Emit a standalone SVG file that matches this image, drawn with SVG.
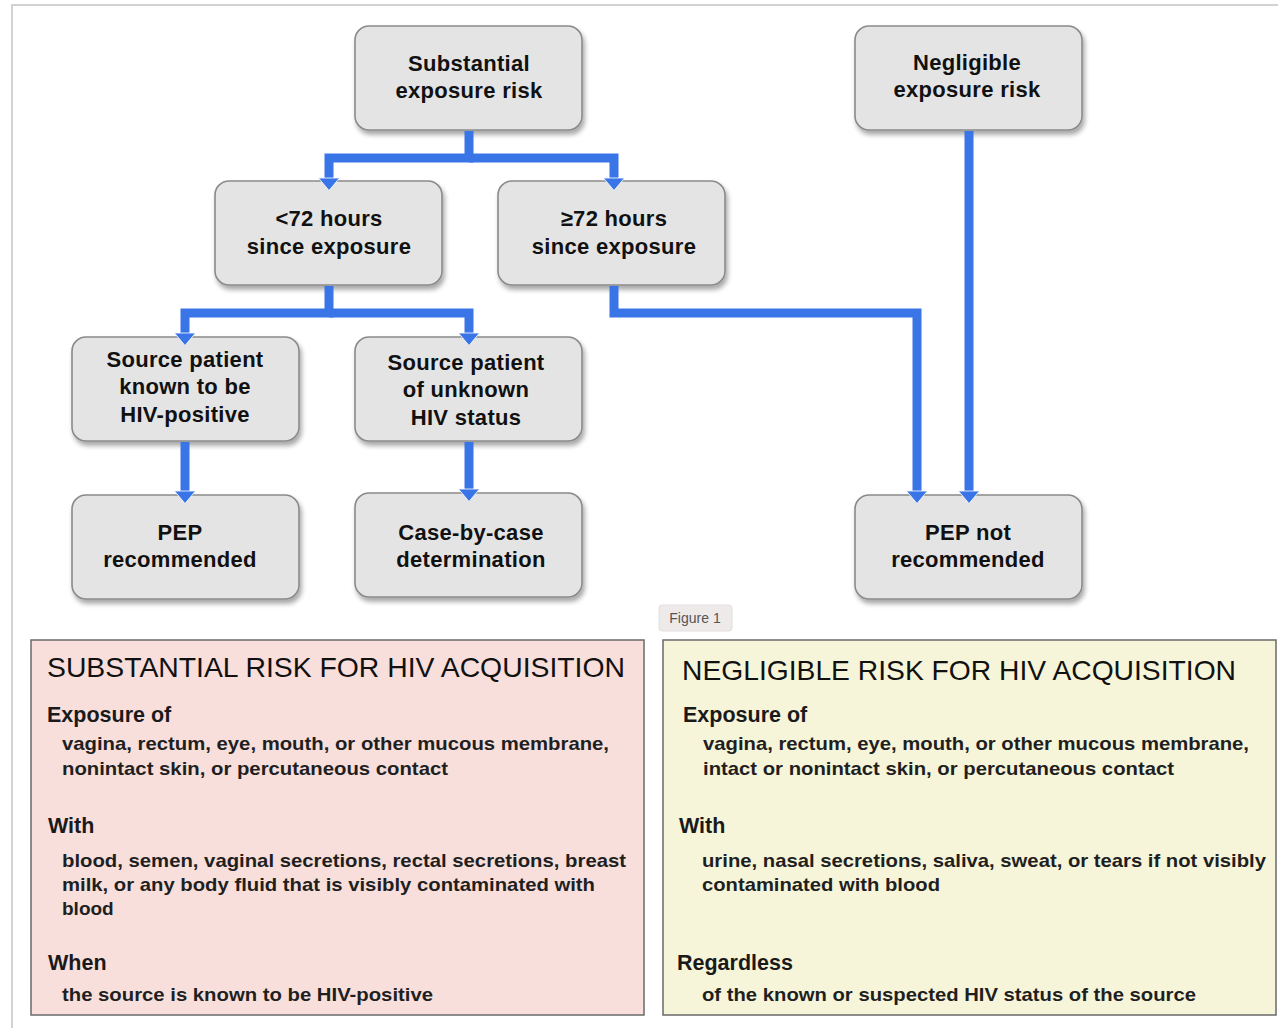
<svg xmlns="http://www.w3.org/2000/svg" width="1278" height="1028" viewBox="0 0 1278 1028">
<style>
.node rect.b{fill:#e4e4e4;stroke:#8a8a8a;stroke-width:1.6;filter:url(#sh)}
.nt{font-family:"Liberation Sans",Arial,sans-serif;font-weight:bold;font-size:22px;fill:#111;text-anchor:middle;letter-spacing:0.3px}
.conn{fill:none;stroke:#3a75e8;stroke-width:9;stroke-linejoin:miter}
.title{font-family:"Liberation Sans",Arial,sans-serif;font-size:28px;fill:#111}
.hd{font-family:"Liberation Sans",Arial,sans-serif;font-weight:bold;font-size:21.5px;fill:#1a1a1a}
.bd{font-family:"Liberation Sans",Arial,sans-serif;font-weight:bold;font-size:19px;fill:#1f1f1f}
</style>
<defs>
<filter id="sh" x="-10%" y="-10%" width="125%" height="130%">
<feGaussianBlur in="SourceAlpha" stdDeviation="2.5"/>
<feOffset dx="2" dy="4" result="o"/>
<feComponentTransfer><feFuncA type="linear" slope="0.35"/></feComponentTransfer>
<feMerge><feMergeNode/><feMergeNode in="SourceGraphic"/></feMerge>
</filter>
<marker id="ah" markerUnits="userSpaceOnUse" markerWidth="24" markerHeight="24" viewBox="0 -12 14 24" refX="0" refY="0" orient="auto">
<path d="M0,-10.5 L12.5,0 L0,10.5 Z" fill="#3a75e8" stroke="#ffffff" stroke-width="0.8"/>
</marker>
</defs>
<rect x="0" y="0" width="1278" height="1028" fill="#ffffff"/>
<g id="frame" stroke="#d2d2d2" stroke-width="2" fill="none">
<path d="M12,1028 V5 H1278"/>
</g>

<g id="n-substantial" class="node">
<rect class="b" x="355" y="26" width="227" height="104" rx="14"/>
<text class="nt" x="469" y="71">Substantial</text>
<text class="nt" x="469" y="98">exposure risk</text>
</g>
<g id="n-negligible" class="node">
<rect class="b" x="855" y="26" width="227" height="104" rx="14"/>
<text class="nt" x="967" y="70">Negligible</text>
<text class="nt" x="967" y="97">exposure risk</text>
</g>
<g id="n-lt72" class="node">
<rect class="b" x="215" y="181" width="227" height="104" rx="14"/>
<text class="nt" x="329" y="226">&lt;72 hours</text>
<text class="nt" x="329" y="254">since exposure</text>
</g>
<g id="n-ge72" class="node">
<rect class="b" x="498" y="181" width="227" height="104" rx="14"/>
<text class="nt" x="614" y="226">≥72 hours</text>
<text class="nt" x="614" y="254">since exposure</text>
</g>
<g id="n-known" class="node">
<rect class="b" x="72" y="337" width="227" height="104" rx="14"/>
<text class="nt" x="185" y="367">Source patient</text>
<text class="nt" x="185" y="394">known to be</text>
<text class="nt" x="185" y="422">HIV-positive</text>
</g>
<g id="n-unknown" class="node">
<rect class="b" x="355" y="337" width="227" height="104" rx="14"/>
<text class="nt" x="466" y="370">Source patient</text>
<text class="nt" x="466" y="397">of unknown</text>
<text class="nt" x="466" y="425">HIV status</text>
</g>
<g id="n-pep" class="node">
<rect class="b" x="72" y="495" width="227" height="104" rx="14"/>
<text class="nt" x="180" y="540">PEP</text>
<text class="nt" x="180" y="567">recommended</text>
</g>
<g id="n-case" class="node">
<rect class="b" x="355" y="493" width="227" height="104" rx="14"/>
<text class="nt" x="471" y="540">Case-by-case</text>
<text class="nt" x="471" y="567">determination</text>
</g>
<g id="n-pepnot" class="node">
<rect class="b" x="855" y="495" width="227" height="104" rx="14"/>
<text class="nt" x="968" y="540">PEP not</text>
<text class="nt" x="968" y="567">recommended</text>
</g>

<g id="connectors">
<path class="conn" d="M469,131 V158 H329 V178" marker-end="url(#ah)"/>
<path class="conn" d="M469,158 H614 V178" marker-end="url(#ah)"/>
<path class="conn" d="M329,286 V313 H185 V333" marker-end="url(#ah)"/>
<path class="conn" d="M329,313 H469 V333" marker-end="url(#ah)"/>
<path class="conn" d="M185,442 V491" marker-end="url(#ah)"/>
<path class="conn" d="M469,442 V489" marker-end="url(#ah)"/>
<path class="conn" d="M614,286 V313 H917 V491" marker-end="url(#ah)"/>
<path class="conn" d="M969,131 V491" marker-end="url(#ah)"/>
</g>

<g id="figure-label">
<rect x="659" y="605" width="73" height="26" rx="3" fill="#eeeaea" stroke="#e2dede" stroke-width="1"/>
<text x="695" y="623" font-family="Liberation Sans, Arial, sans-serif" font-size="14" fill="#555" text-anchor="middle">Figure 1</text>
</g>

<g id="box-substantial">
<rect x="31" y="640" width="613" height="375" fill="#f8dfdb" stroke="#6a6a6a" stroke-width="1.5"/>
<text class="title" x="47" y="677" textLength="578" lengthAdjust="spacingAndGlyphs">SUBSTANTIAL RISK FOR HIV ACQUISITION</text>
<text class="hd" x="47" y="722">Exposure of</text>
<text class="bd" x="62" y="750" textLength="547" lengthAdjust="spacingAndGlyphs">vagina, rectum, eye, mouth, or other mucous membrane,</text>
<text class="bd" x="62" y="775" textLength="386" lengthAdjust="spacingAndGlyphs">nonintact skin, or percutaneous contact</text>
<text class="hd" x="48" y="833">With</text>
<text class="bd" x="62" y="867" textLength="564" lengthAdjust="spacingAndGlyphs">blood, semen, vaginal secretions, rectal secretions, breast</text>
<text class="bd" x="62" y="891" textLength="533" lengthAdjust="spacingAndGlyphs">milk, or any body fluid that is visibly contaminated with</text>
<text class="bd" x="62" y="915">blood</text>
<text class="hd" x="48" y="970">When</text>
<text class="bd" x="62" y="1001" textLength="371" lengthAdjust="spacingAndGlyphs">the source is known to be HIV-positive</text>
</g>

<g id="box-negligible">
<rect x="663" y="640" width="613" height="375" fill="#f7f5d9" stroke="#6a6a6a" stroke-width="1.5"/>
<text class="title" x="682" y="680" textLength="554" lengthAdjust="spacingAndGlyphs">NEGLIGIBLE RISK FOR HIV ACQUISITION</text>
<text class="hd" x="683" y="722">Exposure of</text>
<text class="bd" x="703" y="750" textLength="546" lengthAdjust="spacingAndGlyphs">vagina, rectum, eye, mouth, or other mucous membrane,</text>
<text class="bd" x="703" y="775" textLength="471" lengthAdjust="spacingAndGlyphs">intact or nonintact skin, or percutaneous contact</text>
<text class="hd" x="679" y="833">With</text>
<text class="bd" x="702" y="867" textLength="564" lengthAdjust="spacingAndGlyphs">urine, nasal secretions, saliva, sweat, or tears if not visibly</text>
<text class="bd" x="702" y="891" textLength="238" lengthAdjust="spacingAndGlyphs">contaminated with blood</text>
<text class="hd" x="677" y="970">Regardless</text>
<text class="bd" x="702" y="1001" textLength="494" lengthAdjust="spacingAndGlyphs">of the known or suspected HIV status of the source</text>
</g>
</svg>
